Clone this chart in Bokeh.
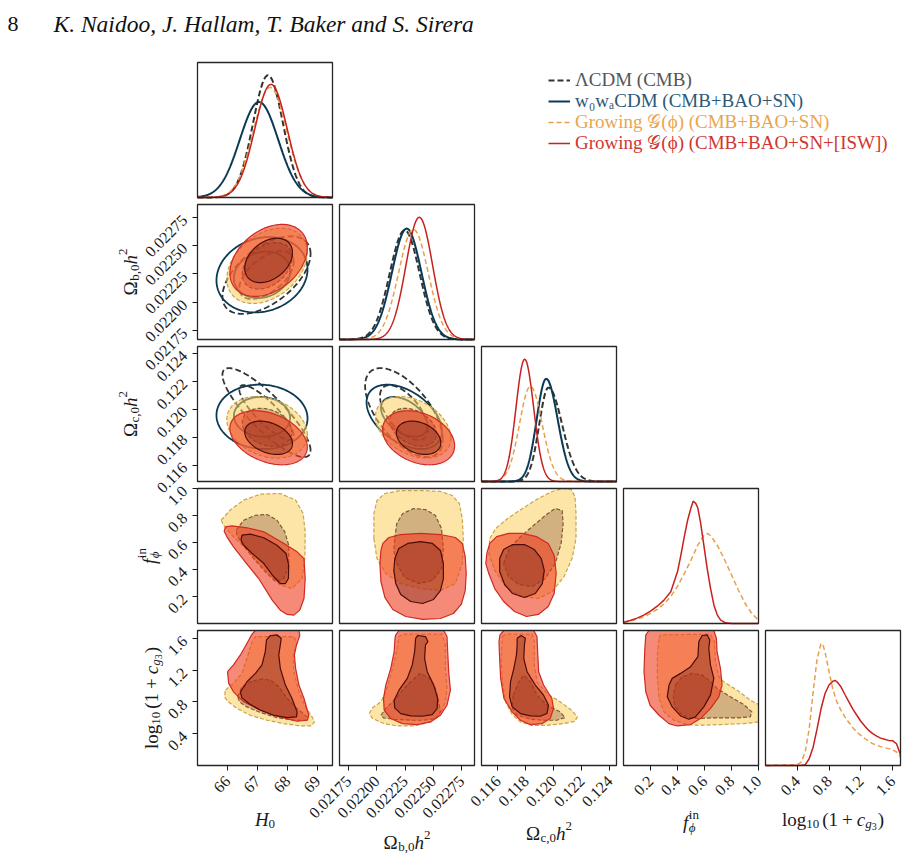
import numpy as np
from bokeh.plotting import figure
from bokeh.models import (Range1d, FixedTicker, PrintfTickFormatter, Label, Legend,
                          LegendItem, LinearAxis)
from bokeh.embed import file_html
from bokeh.resources import INLINE

SERIF = "Liberation Serif"

# ---------------------------------------------------------------- axes
H0_RANGE = (65.0, 69.5)
OB_RANGE = (0.021671, 0.022864)
OC_RANGE = (0.11482, 0.12448)
FPHI_RANGE = (0.0, 1.0)
LOGCG_RANGE = (0.0, 1.7)

H0_TICKS = [66, 67, 68, 69]
OB_TICKS = [0.02175, 0.02200, 0.02225, 0.02250, 0.02275]
OC_TICKS = [0.116, 0.118, 0.120, 0.122, 0.124]
FPHI_TICKS = [0.2, 0.4, 0.6, 0.8, 1.0]
LOGCG_TICKS = [0.4, 0.8, 1.2, 1.6]

# ---------------------------------------------------------------- series
SERIES = ["lcdm", "w0wa", "grow", "grow_isw"]
LEGEND_LABELS = ["ΛCDM (CMB)",
                 "w₀wₐCDM (CMB+BAO+SN)",
                 "Growing 𝒢(ϕ) (CMB+BAO+SN)",
                 "Growing 𝒢(ϕ) (CMB+BAO+SN+[ISW])"]

# 1D marginals of the standard parameters: mode and lower/upper widths
H0_MODE = [67.35, 67.05, 67.42, 67.45]
H0_SIG_LO = [0.50, 0.64, 0.555, 0.54]
H0_SIG_HI = [0.50, 0.64, 0.555, 0.54]
OB_MODE = [0.022247, 0.022265, 0.022324, 0.022376]
OB_SIG_LO = [0.000132, 0.000130, 0.000131, 0.000118]
OB_SIG_HI = [0.000132, 0.000130, 0.000131, 0.000118]
OC_MODE = [0.11961, 0.11945, 0.11832, 0.11791]
OC_SIG_LO = [0.00066, 0.00068, 0.00078, 0.00062]
OC_SIG_HI = [0.00098, 0.00082, 0.00084, 0.00064]

# 2D summaries (means, widths, correlations) of the standard parameters
MEAN_H0 = [67.30, 67.15, 67.32, 67.37]
MEAN_OB = [0.022240, 0.022243, 0.022322, 0.022370]
MEAN_OC = [0.11975, 0.11945, 0.11870, 0.11795]
SD_H0 = [0.60, 0.62, 0.548, 0.527]
SD_OB = [0.000140, 0.000136, 0.000136, 0.000130]
SD_OC = [0.00130, 0.00094, 0.00090, 0.00079]
RHO_H0_OB = [0.55, 0.15, 0.35, 0.35]
RHO_H0_OC = [-0.85, -0.05, -0.25, -0.35]
RHO_OB_OC = [-0.60, -0.45, -0.35, -0.30]

# 1D marginals of f_phi^in and log10(1+c_g3) (relative density)
FPHI_X_GROW = [0.0, 0.05, 0.1, 0.15, 0.2, 0.25, 0.3, 0.35, 0.4, 0.45, 0.5, 0.55,
               0.6, 0.625, 0.65, 0.7, 0.75, 0.8, 0.85, 0.9, 0.95, 1.0]
FPHI_PDF_GROW = [0.007, 0.017, 0.032, 0.05, 0.075, 0.105, 0.145, 0.20, 0.275, 0.37,
                 0.47, 0.58, 0.66, 0.667, 0.645, 0.57, 0.47, 0.36, 0.25, 0.15, 0.075, 0.025]
FPHI_X_ISW = [0.0, 0.05, 0.1, 0.15, 0.2, 0.25, 0.3, 0.35, 0.4, 0.425, 0.45, 0.475, 0.5,
              0.516, 0.535, 0.55, 0.57, 0.595, 0.62, 0.645, 0.67, 0.695, 0.72, 0.755, 0.8, 1.0]
FPHI_PDF_ISW = [0.01, 0.022, 0.04, 0.062, 0.091, 0.128, 0.173, 0.235, 0.383, 0.506, 0.642,
                0.765, 0.857, 0.906, 0.89, 0.857, 0.753, 0.58, 0.407, 0.259, 0.136, 0.062,
                0.025, 0.005, 0.0, 0.0]
LOGCG_X_GROW = [0.0, 0.4, 0.45, 0.5, 0.55, 0.6, 0.65, 0.7, 0.725, 0.75, 0.8, 0.85, 0.9,
                0.95, 1.0, 1.05, 1.1, 1.15, 1.2, 1.25, 1.3, 1.35, 1.4, 1.45, 1.5, 1.55,
                1.6, 1.65, 1.7]
LOGCG_PDF_GROW = [0.0, 0.005, 0.025, 0.10, 0.27, 0.546, 0.79, 0.905, 0.89, 0.84, 0.695,
                  0.56, 0.47, 0.41, 0.36, 0.318, 0.28, 0.248, 0.223, 0.20, 0.18, 0.162,
                  0.15, 0.14, 0.132, 0.125, 0.117, 0.10, 0.062]
LOGCG_X_ISW = [0.0, 0.4, 0.45, 0.5, 0.55, 0.6, 0.65, 0.7, 0.75, 0.8, 0.85, 0.875, 0.9,
               0.95, 1.0, 1.05, 1.1, 1.15, 1.2, 1.25, 1.3, 1.35, 1.4, 1.45, 1.5, 1.55,
               1.6, 1.65, 1.7]
LOGCG_PDF_ISW = [0.0, 0.0, 0.002, 0.005, 0.05, 0.136, 0.273, 0.422, 0.533, 0.596, 0.625,
                 0.63, 0.62, 0.583, 0.526, 0.471, 0.417, 0.372, 0.328, 0.293, 0.26, 0.236,
                 0.218, 0.203, 0.194, 0.186, 0.184, 0.161, 0.079]

# 2D credible regions (95% / 68%) of the Growing G(phi) runs
FPHI_H0_GROW_95 = [(65.79, 0.765), (66.09, 0.840), (66.54, 0.914), (67.10, 0.958), (67.76, 0.963),
                   (68.27, 0.914), (68.52, 0.815), (68.59, 0.679), (68.58, 0.494), (68.49, 0.333),
                   (68.15, 0.259), (67.76, 0.284), (67.21, 0.407), (66.65, 0.543), (66.15, 0.654),
                   (65.87, 0.728)]
FPHI_H0_GROW_68 = [(66.29, 0.691), (66.54, 0.765), (66.93, 0.802), (67.32, 0.807), (67.65, 0.765),
                   (67.91, 0.679), (68.04, 0.580), (68.04, 0.432), (67.88, 0.333), (67.60, 0.309),
                   (67.26, 0.383), (66.87, 0.481), (66.48, 0.593), (66.32, 0.654)]
FPHI_H0_ISW_95 = [(65.93, 0.716), (66.15, 0.723), (66.65, 0.709), (67.21, 0.679), (67.88, 0.593),
                  (68.32, 0.531), (68.55, 0.481), (68.59, 0.333), (68.55, 0.185), (68.41, 0.099),
                  (68.21, 0.062), (67.99, 0.067), (67.76, 0.099), (67.49, 0.173), (67.04, 0.333),
                  (66.59, 0.457), (66.20, 0.568), (65.98, 0.642), (65.89, 0.684)]
FPHI_H0_ISW_68 = [(66.48, 0.654), (66.76, 0.662), (67.21, 0.635), (67.65, 0.580), (67.95, 0.519),
                  (68.04, 0.432), (68.03, 0.333), (67.93, 0.296), (67.76, 0.296), (67.54, 0.346),
                  (67.21, 0.444), (66.82, 0.519), (66.54, 0.580), (66.45, 0.617)]

FPHI_OB_GROW_95 = [(0.021975, 0.630), (0.021975, 0.815), (0.022002, 0.911), (0.022072, 0.963),
                   (0.022212, 0.985), (0.022388, 0.985), (0.022563, 0.978), (0.022668, 0.948),
                   (0.022730, 0.889), (0.022756, 0.778), (0.022765, 0.630), (0.022756, 0.444),
                   (0.022695, 0.296), (0.022563, 0.244), (0.022388, 0.259), (0.022212, 0.296),
                   (0.022081, 0.370), (0.022002, 0.481)]
FPHI_OB_GROW_68 = [(0.022160, 0.630), (0.022177, 0.741), (0.022230, 0.815), (0.022326, 0.852),
                   (0.022432, 0.844), (0.022519, 0.800), (0.022572, 0.704), (0.022589, 0.556),
                   (0.022572, 0.407), (0.022493, 0.319), (0.022370, 0.296), (0.022247, 0.341),
                   (0.022177, 0.444), (0.022151, 0.541)]
FPHI_OB_ISW_95 = [(0.022054, 0.593), (0.022107, 0.637), (0.022212, 0.659), (0.022388, 0.667),
                  (0.022563, 0.659), (0.022695, 0.637), (0.022756, 0.593), (0.022782, 0.496),
                  (0.022791, 0.370), (0.022782, 0.244), (0.022747, 0.141), (0.022677, 0.074),
                  (0.022563, 0.037), (0.022405, 0.030), (0.022256, 0.052), (0.022142, 0.104),
                  (0.022072, 0.193), (0.022037, 0.311), (0.022028, 0.444), (0.022037, 0.541)]
FPHI_OB_ISW_68 = [(0.022160, 0.481), (0.022195, 0.556), (0.022274, 0.593), (0.022388, 0.607),
                  (0.022493, 0.593), (0.022563, 0.541), (0.022589, 0.444), (0.022589, 0.333),
                  (0.022563, 0.244), (0.022502, 0.178), (0.022405, 0.148), (0.022300, 0.163),
                  (0.022212, 0.215), (0.022168, 0.296), (0.022151, 0.393)]

FPHI_OC_GROW_95 = [(0.115411, 0.630), (0.115837, 0.704), (0.116688, 0.778), (0.117752, 0.852),
                   (0.118887, 0.926), (0.119879, 0.978), (0.120660, 1.0), (0.121227, 0.993),
                   (0.121511, 0.941), (0.121582, 0.815), (0.121582, 0.630), (0.121298, 0.481),
                   (0.120730, 0.348), (0.119879, 0.237), (0.118887, 0.185), (0.117610, 0.200),
                   (0.116546, 0.274), (0.115766, 0.393), (0.115340, 0.519)]
FPHI_OC_GROW_68 = [(0.116404, 0.444), (0.116759, 0.541), (0.117468, 0.630), (0.118461, 0.719),
                   (0.119383, 0.800), (0.120092, 0.852), (0.120589, 0.837), (0.120660, 0.741),
                   (0.120518, 0.593), (0.120092, 0.444), (0.119383, 0.333), (0.118461, 0.274),
                   (0.117468, 0.289), (0.116759, 0.348)]
FPHI_OC_ISW_95 = [(0.115199, 0.519), (0.115411, 0.593), (0.115908, 0.644), (0.116759, 0.667),
                  (0.117752, 0.667), (0.118745, 0.644), (0.119596, 0.593), (0.120021, 0.504),
                  (0.120163, 0.370), (0.120021, 0.222), (0.119596, 0.126), (0.118887, 0.067),
                  (0.118035, 0.052), (0.117184, 0.089), (0.116404, 0.163), (0.115766, 0.259),
                  (0.115340, 0.370), (0.115128, 0.444)]
FPHI_OC_ISW_68 = [(0.116121, 0.481), (0.116404, 0.548), (0.117043, 0.585), (0.117894, 0.585),
                  (0.118603, 0.548), (0.119099, 0.481), (0.119312, 0.393), (0.119170, 0.296),
                  (0.118674, 0.222), (0.117894, 0.193), (0.117043, 0.222), (0.116475, 0.289),
                  (0.116121, 0.385)]

LOGCG_H0_GROW_95 = [(65.93, 0.949), (66.20, 1.034), (66.48, 1.160), (66.65, 1.350), (66.82, 1.561),
                    (66.93, 1.624), (68.21, 1.624), (68.32, 1.540), (68.19, 1.392), (68.21, 1.181),
                    (68.38, 0.928), (68.60, 0.738), (68.82, 0.612), (68.90, 0.549), (68.79, 0.498),
                    (68.43, 0.498), (67.88, 0.527), (67.32, 0.570), (66.76, 0.633), (66.32, 0.717),
                    (66.00, 0.810), (65.90, 0.865)]
LOGCG_H0_GROW_68 = [(66.34, 0.865), (66.48, 0.992), (66.82, 1.063), (67.15, 1.089), (67.45, 1.072),
                    (67.71, 0.992), (67.99, 0.844), (68.32, 0.717), (68.66, 0.612), (68.60, 0.570),
                    (68.21, 0.570), (67.65, 0.603), (67.10, 0.667), (66.65, 0.738), (66.40, 0.802)]
LOGCG_H0_ISW_95 = [(66.00, 1.181), (66.20, 1.266), (66.43, 1.392), (66.65, 1.540), (66.82, 1.654),
                   (66.93, 1.70), (68.38, 1.70), (68.41, 1.637), (68.30, 1.519), (68.23, 1.392),
                   (68.27, 1.224), (68.38, 1.013), (68.55, 0.844), (68.71, 0.633), (68.66, 0.570),
                   (68.32, 0.557), (67.99, 0.591), (67.54, 0.633), (66.98, 0.717), (66.54, 0.802),
                   (66.20, 0.928), (66.04, 1.034)]
LOGCG_H0_ISW_68 = [(66.43, 0.928), (66.65, 1.055), (66.93, 1.160), (67.15, 1.266), (67.26, 1.435),
                   (67.30, 1.582), (67.43, 1.637), (67.65, 1.646), (67.79, 1.603), (67.76, 1.519),
                   (67.71, 1.392), (67.76, 1.224), (67.93, 1.013), (68.15, 0.844), (68.32, 0.675),
                   (68.30, 0.612), (67.99, 0.603), (67.54, 0.633), (67.10, 0.696), (66.71, 0.781),
                   (66.48, 0.852)]

LOGCG_OB_GROW_95 = [(0.021934, 0.654), (0.021963, 0.726), (0.022037, 0.802), (0.022080, 0.928),
                    (0.022124, 1.139), (0.022168, 1.392), (0.022197, 1.624), (0.022227, 1.654),
                    (0.022577, 1.654), (0.022607, 1.519), (0.022607, 1.224), (0.022621, 0.970),
                    (0.022607, 0.802), (0.022563, 0.654), (0.022475, 0.549), (0.022329, 0.498),
                    (0.022183, 0.498), (0.022066, 0.527), (0.021963, 0.591)]
LOGCG_OB_GROW_68 = [(0.022037, 0.633), (0.022080, 0.717), (0.022168, 0.844), (0.022270, 1.013),
                    (0.022382, 1.160), (0.022461, 1.105), (0.022519, 0.970), (0.022548, 0.802),
                    (0.022563, 0.675), (0.022519, 0.591), (0.022417, 0.570), (0.022300, 0.570),
                    (0.022154, 0.582), (0.022060, 0.599)]
LOGCG_OB_ISW_95 = [(0.022168, 1.646), (0.022197, 1.70), (0.022592, 1.70), (0.022621, 1.624),
                   (0.022627, 1.435), (0.022636, 1.181), (0.022651, 0.949), (0.022621, 0.759),
                   (0.022563, 0.633), (0.022475, 0.549), (0.022358, 0.515), (0.022227, 0.527),
                   (0.022124, 0.591), (0.022066, 0.696), (0.022060, 0.844), (0.022080, 1.013),
                   (0.022124, 1.224), (0.022154, 1.435), (0.022162, 1.603)]
LOGCG_OB_ISW_68 = [(0.022344, 1.603), (0.022364, 1.637), (0.022431, 1.624), (0.022452, 1.561),
                   (0.022431, 1.519), (0.022423, 1.350), (0.022446, 1.181), (0.022504, 1.013),
                   (0.022539, 0.844), (0.022534, 0.717), (0.022490, 0.641), (0.022402, 0.620),
                   (0.022300, 0.624), (0.022212, 0.654), (0.022159, 0.726), (0.022154, 0.823),
                   (0.022197, 0.949), (0.022270, 1.097), (0.022314, 1.266), (0.022335, 1.435)]

LOGCG_OC_GROW_95 = [(0.116307, 1.624), (0.116544, 1.654), (0.118435, 1.654), (0.118600, 1.561),
                    (0.118600, 1.266), (0.118790, 1.055), (0.119499, 0.907), (0.120444, 0.802),
                    (0.121272, 0.696), (0.121674, 0.612), (0.121508, 0.557), (0.120681, 0.527),
                    (0.119499, 0.506), (0.118435, 0.506), (0.117608, 0.549), (0.117017, 0.641),
                    (0.116544, 0.802), (0.116307, 1.055), (0.116236, 1.350)]
LOGCG_OC_GROW_68 = [(0.117087, 0.886), (0.117489, 1.055), (0.117844, 1.139), (0.118317, 1.055),
                    (0.118790, 0.886), (0.119499, 0.759), (0.120444, 0.675), (0.120799, 0.603),
                    (0.120208, 0.570), (0.119262, 0.570), (0.118317, 0.582), (0.117371, 0.633),
                    (0.117017, 0.717)]
LOGCG_OC_ISW_95 = [(0.116142, 1.646), (0.116426, 1.70), (0.118553, 1.70), (0.118790, 1.624),
                   (0.118837, 1.435), (0.118908, 1.181), (0.119262, 1.013), (0.119853, 0.844),
                   (0.119972, 0.717), (0.119735, 0.591), (0.119144, 0.527), (0.118317, 0.515),
                   (0.117608, 0.570), (0.117017, 0.675), (0.116426, 0.844), (0.116189, 1.097),
                   (0.116118, 1.350), (0.116071, 1.561)]
LOGCG_OC_ISW_68 = [(0.117371, 1.603), (0.117655, 1.637), (0.117962, 1.603), (0.117891, 1.519),
                   (0.117844, 1.350), (0.118080, 1.181), (0.118671, 1.013), (0.119262, 0.886),
                   (0.119617, 0.759), (0.119499, 0.654), (0.119026, 0.620), (0.118317, 0.624),
                   (0.117608, 0.654), (0.117017, 0.738), (0.116827, 0.865), (0.116898, 1.055),
                   (0.117135, 1.224), (0.117324, 1.392), (0.117371, 1.519)]

LOGCG_FPHI_GROW_95 = [(0.263, 1.603), (0.275, 1.646), (0.644, 1.654), (0.674, 1.561), (0.681, 1.308),
                      (0.706, 1.118), (0.742, 1.055), (0.841, 0.949), (0.939, 0.823), (1.0, 0.770),
                      (1.0, 0.549), (0.890, 0.527), (0.718, 0.515), (0.546, 0.506), (0.472, 0.515),
                      (0.374, 0.570), (0.300, 0.675), (0.263, 0.844), (0.251, 1.097), (0.251, 1.392)]
LOGCG_FPHI_GROW_68 = [(0.386, 1.013), (0.435, 1.118), (0.509, 1.160), (0.583, 1.139), (0.644, 1.055),
                      (0.693, 0.970), (0.792, 0.865), (0.890, 0.768), (0.951, 0.675), (0.939, 0.612),
                      (0.841, 0.599), (0.644, 0.599), (0.521, 0.591), (0.435, 0.633), (0.379, 0.751),
                      (0.369, 0.886)]
LOGCG_FPHI_ISW_95 = [(0.165, 1.646), (0.189, 1.70), (0.669, 1.70), (0.688, 1.603), (0.693, 1.435),
                     (0.718, 1.224), (0.730, 1.013), (0.706, 0.865), (0.644, 0.717), (0.570, 0.591),
                     (0.497, 0.515), (0.398, 0.498), (0.337, 0.527), (0.263, 0.633), (0.197, 0.759),
                     (0.165, 0.928), (0.152, 1.181), (0.157, 1.435)]
LOGCG_FPHI_ISW_68 = [(0.337, 1.013), (0.361, 1.097), (0.423, 1.160), (0.497, 1.245), (0.551, 1.371),
                     (0.558, 1.561), (0.583, 1.637), (0.619, 1.646), (0.639, 1.582), (0.632, 1.477),
                     (0.644, 1.266), (0.669, 1.097), (0.644, 0.886), (0.595, 0.738), (0.533, 0.612),
                     (0.484, 0.582), (0.423, 0.624), (0.361, 0.738), (0.324, 0.865)]

# ---------------------------------------------------------------- styles
LINE_COLORS = ["#333333", "#0b3954", "#e89f48", "#c8201c"]
LEGEND_TEXT_COLORS = ["#555555", "#2d5877", "#e9a54e", "#cf3731"]
LINE_DASH_1D = ["6 3", "solid", "5 3", "solid"]
LINE_WIDTH_1D = [2.0, 2.0, 1.5, 1.5]

FILL = {"grow": {95: ("#fcd060", 0.55, "#c9a449"), 68: ("#8c5a3c", 0.38, "#7d5a33")},
        "grow_isw": {95: ("#f03c20", 0.60, "#cf2a1f"), 68: ("#7a2616", 0.40, "#4d0c0c")}}

R68 = np.sqrt(-2 * np.log(1 - 0.68))
R95 = np.sqrt(-2 * np.log(1 - 0.95))

RANGES = [H0_RANGE, OB_RANGE, OC_RANGE, FPHI_RANGE, LOGCG_RANGE]
TICKS = [H0_TICKS, OB_TICKS, OC_TICKS, FPHI_TICKS, LOGCG_TICKS]
FORMATS = ["%d", "%.5f", "%.3f", "%.1f", "%.1f"]

# page layout (pixels): the canvas doubles as the coordinate frame of the panels
W, H = 908, 856
SIZE = 135
COL_LEFT = [197, 339, 481, 623, 765]
ROW_TOP = [62, 204, 346, 488, 630]
AXIS_X = COL_LEFT[0]
AXIS_Y = ROW_TOP[4] + SIZE

# Times-like advance widths (em) for the label pieces
CHAR_W = {"0": .5, "1": .5, "2": .5, "3": .5, ".": .25, ",": .25, "(": .333, ")": .333,
          "+": .564, "l": .278, "o": .5, "g": .5, "b": .5, "c": .444, "i": .278,
          "n": .5, "h": .5, "f": .3, "H": .722, "Ω": .768, "ϕ": .6}

# label pieces: (text, size, rise, italic, advances) or a bare number for a gap in px
LABEL_PIECES = [
    [("H", 19, 0, True, True), ("0", 13, -4, False, True)],
    [("Ω", 19, 0, False, True), ("b,0", 13, -4, False, True), ("h", 19, 0, True, True),
     ("2", 13, 8, False, True)],
    [("Ω", 19, 0, False, True), ("c,0", 13, -4, False, True), ("h", 19, 0, True, True),
     ("2", 13, 8, False, True)],
    [("f", 19, 0, True, True), ("ϕ", 13, -5, True, False), ("in", 13, 8, False, True)],
    [("log", 19, 0, False, True), ("10", 13, -4, False, True), 3, ("(1", 19, 0, False, True),
     4, ("+", 19, 0, False, True), 4, ("c", 19, 0, True, True), ("g", 13, -4, True, True),
     ("3", 10, -7, False, True), 1, (")", 19, 0, False, True)],
]
XLABEL_BASE = [819, 842, 833, 822, 819]
YLABEL_BASE = [0, 130, 130, 149, 151]


def split_normal(x, mode, lo, hi):
    s = np.where(x < mode, lo, hi)
    return 2.0 / (np.sqrt(2 * np.pi) * (lo + hi)) * np.exp(-0.5 * ((x - mode) / s) ** 2)


def ellipse(mx, my, sx, sy, rho, r):
    t = np.linspace(0, 2 * np.pi, 181)
    x = mx + r * sx * np.cos(t)
    y = my + r * sy * (rho * np.cos(t) + np.sqrt(1 - rho ** 2) * np.sin(t))
    return x, y


def page_range(lo, hi, start_px, total_px):
    """Range whose [lo, hi] lands on SIZE pixels starting start_px from the range origin."""
    k = (hi - lo) / SIZE
    return Range1d(lo - start_px * k, lo + (total_px - start_px) * k)


p = figure(width=W, height=H, min_border=0, x_range=Range1d(0, W), y_range=Range1d(H, 0),
           x_axis_location=None, y_axis_location=None, toolbar_location=None,
           output_backend="svg", outline_line_color=None)
p.grid.visible = False
p.background_fill_color = "white"
p.border_fill_color = "white"

# per-panel coordinate systems
MODES = [H0_MODE, OB_MODE, OC_MODE]
SIG_LO = [H0_SIG_LO, OB_SIG_LO, OC_SIG_LO]
SIG_HI = [H0_SIG_HI, OB_SIG_HI, OC_SIG_HI]
diag_tops = []
for i in range(3):
    xs = np.linspace(RANGES[i][0], RANGES[i][1], 400)
    peak = max(split_normal(xs, MODES[i][k], SIG_LO[i][k], SIG_HI[i][k]).max() for k in range(4))
    diag_tops.append(peak / 0.905)
diag_tops += [1.0, 1.0]

xr, yr = {}, {}
for c in range(5):
    xr[f"x{c}"] = page_range(RANGES[c][0], RANGES[c][1], COL_LEFT[c], W)
for r in range(5):
    bottom = ROW_TOP[r] + SIZE
    yr[f"y{r}"] = page_range(RANGES[r][0], RANGES[r][1], H - bottom, H)
    yr[f"d{r}"] = page_range(0.0, diag_tops[r], H - bottom, H)
p.extra_x_ranges = xr
p.extra_y_ranges = yr


def on(row, col):
    return dict(x_range_name=f"x{col}", y_range_name=(f"d{col}" if row == col else f"y{row}"))


def frame(row, col):
    top = diag_tops[col] if row == col else RANGES[row][1]
    bot = 0.0 if row == col else RANGES[row][0]
    p.quad(left=[RANGES[col][0]], right=[RANGES[col][1]], bottom=[bot], top=[top],
           fill_color=None, line_color="#262626", line_width=1.3, **on(row, col))


def filled(row, col, xs, ys, key, level):
    fc, fa, lc = FILL[key][level]
    dash = "4 2" if key == "grow" else "solid"
    xs, ys = list(xs), list(ys)
    p.patch(xs, ys, fill_color=fc, fill_alpha=fa, line_color=None, **on(row, col))
    # outline, leaving out stretches that run along the panel edge
    xhi, yhi = RANGES[col][1], RANGES[row][1]
    lx, ly = [xs[0]], [ys[0]]
    prev = (xs[0], ys[0])
    for a, b in zip(xs[1:] + [xs[0]], ys[1:] + [ys[0]]):
        if (prev[1] >= yhi and b >= yhi) or (prev[0] >= xhi and a >= xhi):
            lx.append(np.nan)
            ly.append(np.nan)
        lx.append(a)
        ly.append(b)
        prev = (a, b)
    p.line(lx, ly, line_color=lc, line_width=1.2, line_dash=dash, **on(row, col))


def style_axis(ax, i):
    ax.ticker = FixedTicker(ticks=TICKS[i])
    ax.formatter = PrintfTickFormatter(format=FORMATS[i])
    ax.major_label_orientation = np.pi / 4
    ax.major_label_text_font = SERIF
    ax.major_label_text_font_size = "16px"
    ax.major_label_text_color = "#1a1a1a"
    ax.major_label_standoff = 8
    ax.major_tick_in = 0
    ax.major_tick_out = 5
    ax.major_tick_line_color = "#1a1a1a"
    ax.minor_tick_in = 0
    ax.minor_tick_out = 0
    ax.axis_line_color = None


def advance(piece):
    if isinstance(piece, (int, float)):
        return piece
    t, sz, _, _, adv = piece
    return sum(CHAR_W.get(ch, 0.5) for ch in t) * sz if adv else 0.0


def math_label(pieces, cx, cy, angle):
    """Lay out a label from text pieces and gaps, centred on cx, cy."""
    total = sum(advance(pc) for pc in pieces)
    s = -total / 2
    ux, uy = np.cos(angle), -np.sin(angle)
    nx, ny = -np.sin(angle), -np.cos(angle)
    for pc in pieces:
        if not isinstance(pc, (int, float)):
            t, sz, rise, ital, _ = pc
            p.add_layout(Label(x=cx + s * ux + rise * nx, y=cy + s * uy + rise * ny,
                               text=t, angle=angle, text_font=SERIF, text_font_size=f"{sz}px",
                               text_font_style="italic" if ital else "normal",
                               text_align="left", text_baseline="alphabetic",
                               text_color="#1a1a1a"))
        s += advance(pc)


MEANS = [MEAN_H0, MEAN_OB, MEAN_OC]
SDS = [SD_H0, SD_OB, SD_OC]
RHOS = {(1, 0): RHO_H0_OB, (2, 0): RHO_H0_OC, (2, 1): RHO_OB_OC}
VERTEX_PANELS = {
    (3, 0): (FPHI_H0_GROW_95, FPHI_H0_GROW_68, FPHI_H0_ISW_95, FPHI_H0_ISW_68),
    (3, 1): (FPHI_OB_GROW_95, FPHI_OB_GROW_68, FPHI_OB_ISW_95, FPHI_OB_ISW_68),
    (3, 2): (FPHI_OC_GROW_95, FPHI_OC_GROW_68, FPHI_OC_ISW_95, FPHI_OC_ISW_68),
    (4, 0): (LOGCG_H0_GROW_95, LOGCG_H0_GROW_68, LOGCG_H0_ISW_95, LOGCG_H0_ISW_68),
    (4, 1): (LOGCG_OB_GROW_95, LOGCG_OB_GROW_68, LOGCG_OB_ISW_95, LOGCG_OB_ISW_68),
    (4, 2): (LOGCG_OC_GROW_95, LOGCG_OC_GROW_68, LOGCG_OC_ISW_95, LOGCG_OC_ISW_68),
    (4, 3): (LOGCG_FPHI_GROW_95, LOGCG_FPHI_GROW_68, LOGCG_FPHI_ISW_95, LOGCG_FPHI_ISW_68),
}

# ---------------------------------------------------------------- diagonal
legend_renderers = []
for i in range(5):
    if i < 3:
        x = np.linspace(RANGES[i][0], RANGES[i][1], 400)
        for k in range(4):
            y = split_normal(x, MODES[i][k], SIG_LO[i][k], SIG_HI[i][k])
            rr = p.line(x, y, line_color=LINE_COLORS[k], line_width=LINE_WIDTH_1D[k],
                        line_dash=LINE_DASH_1D[k], **on(i, i))
            if i == 0:
                legend_renderers.append(rr)
    else:
        if i == 3:
            pairs = [(FPHI_X_GROW, FPHI_PDF_GROW), (FPHI_X_ISW, FPHI_PDF_ISW)]
        else:
            pairs = [(LOGCG_X_GROW, LOGCG_PDF_GROW), (LOGCG_X_ISW, LOGCG_PDF_ISW)]
        for k, (xs, ys) in zip([2, 3], pairs):
            p.line(xs, ys, line_color=LINE_COLORS[k], line_width=LINE_WIDTH_1D[k],
                   line_dash=LINE_DASH_1D[k], **on(i, i))
    frame(i, i)

# ---------------------------------------------------------------- off-diagonal
for row in range(1, 5):
    for col in range(row):
        if row < 3:
            rho = RHOS[(row, col)]
            for k in range(2):
                for r in (R68, R95):
                    ex, ey = ellipse(MEANS[col][k], MEANS[row][k], SDS[col][k], SDS[row][k],
                                     rho[k], r)
                    p.line(ex, ey, line_color=LINE_COLORS[k], line_width=1.8,
                           line_dash=LINE_DASH_1D[k], **on(row, col))
            for k, key in ((2, "grow"), (3, "grow_isw")):
                for level, r in ((95, R95), (68, R68)):
                    ex, ey = ellipse(MEANS[col][k], MEANS[row][k], SDS[col][k], SDS[row][k],
                                     rho[k], r)
                    filled(row, col, ex, ey, key, level)
        else:
            g95, g68, i95, i68 = VERTEX_PANELS[(row, col)]
            for pts, key, level in ((g95, "grow", 95), (g68, "grow", 68),
                                    (i95, "grow_isw", 95), (i68, "grow_isw", 68)):
                filled(row, col, [a for a, _ in pts], [b for _, b in pts], key, level)
        frame(row, col)

# ---------------------------------------------------------------- axes and labels
for c in range(5):
    ax = LinearAxis(x_range_name=f"x{c}", fixed_location=AXIS_Y)
    style_axis(ax, c)
    p.add_layout(ax, "below")
    math_label(LABEL_PIECES[c], COL_LEFT[c] + SIZE / 2, XLABEL_BASE[c], 0.0)
for r in range(1, 5):
    ay = LinearAxis(y_range_name=f"y{r}", fixed_location=AXIS_X)
    style_axis(ay, r)
    p.add_layout(ay, "left")
    math_label(LABEL_PIECES[r], YLABEL_BASE[r], ROW_TOP[r] + SIZE / 2, np.pi / 2)

# ---------------------------------------------------------------- legend
LEGEND_ROWS = [81, 102, 123, 144]
for k in range(4):
    leg = Legend(items=[LegendItem(label=LEGEND_LABELS[k], renderers=[legend_renderers[k]])],
                 location=(548, H - LEGEND_ROWS[k] - 10), padding=0, margin=0, spacing=0,
                 glyph_width=22, glyph_height=20, label_height=20, label_standoff=5,
                 label_text_font=SERIF, label_text_font_size="19px",
                 label_text_color=LEGEND_TEXT_COLORS[k],
                 border_line_alpha=0, background_fill_alpha=0)
    p.add_layout(leg)

# ---------------------------------------------------------------- running head
p.add_layout(Label(x=7, y=23, text="8", text_font=SERIF, text_font_size="22px",
                   text_baseline="alphabetic", text_color="#111111"))
p.add_layout(Label(x=53, y=23, text="K. Naidoo, J. Hallam, T. Baker and S. Sirera",
                   text_font=SERIF, text_font_size="23.5px", text_font_style="italic",
                   text_baseline="alphabetic", text_color="#111111"))

open("out.html", "w").write(file_html(p, INLINE))
